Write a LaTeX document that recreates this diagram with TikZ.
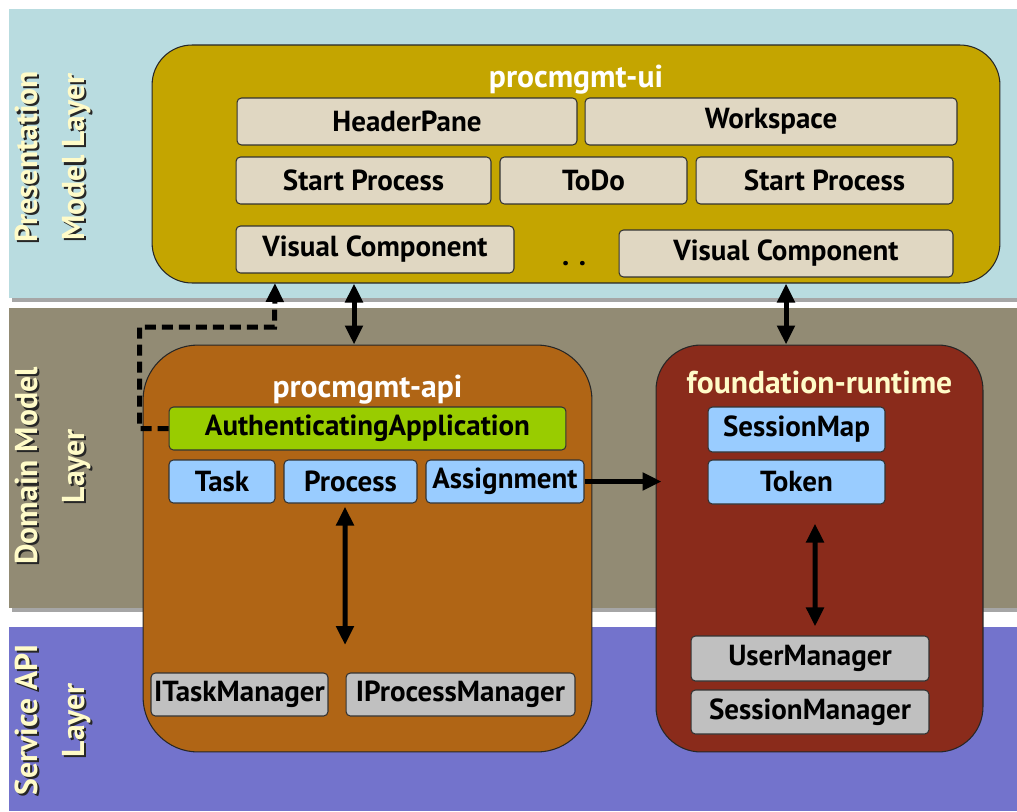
\documentclass[tikz,border=0pt]{standalone}
\usepackage{fontspec}
\setmainfont{PT Sans}
\usetikzlibrary{arrows.meta}
\definecolor{presblue}{HTML}{B9DCE0}
\definecolor{domaingray}{HTML}{928B74}
\definecolor{servicepurple}{HTML}{7373CC}
\definecolor{uigold}{HTML}{C4A500}
\definecolor{apiorange}{HTML}{B06515}
\definecolor{runtimered}{HTML}{8A2B1B}
\definecolor{beige}{HTML}{E0D7C2}
\definecolor{authgreen}{HTML}{99CC00}
\definecolor{classblue}{HTML}{99CCFF}
\definecolor{mgrgray}{HTML}{C0C0C0}
\definecolor{cream}{HTML}{FFFBC8}

% texte vertical des couches, avec son ombre
\newcommand{\layerlabel}[3]{%
  \node[layertext, text=black!85] (#1-shadow) at ([xshift=1.2pt,yshift=-1.2pt]#2) {#3};
  \node[layertext] (#1) at (#2) {#3};}

\begin{document}
\begin{tikzpicture}[x=0.02cm, y=-0.02cm,
  every node/.style={font=\fontsize{16.5}{19}\selectfont\bfseries},
  layertext/.style={rotate=90, align=center, text=cream, font=\fontsize{18}{26.7}\selectfont\bfseries},
  module/.style={draw=black!85, line width=0.6pt, inner sep=0pt},
  title/.style={font=\fontsize{18}{21}\selectfont\bfseries},
  comp/.style={draw=black!80, line width=0.6pt, rounded corners=2.5pt, inner sep=0pt, minimum height=0.94cm},
  link/.style={line width=0.1cm, -{Triangle[length=0.38cm,width=0.34cm]}},
  dbl/.style={line width=0.1cm, {Triangle[length=0.38cm,width=0.34cm]}-{Triangle[length=0.38cm,width=0.34cm]}},
  authlink/.style={link, dash pattern=on 0.22cm off 0.12cm}]
  \useasboundingbox (0,0) rectangle (1017,811);

  % Couches
  \fill[black!35] (12,12) rectangle (1017,302);
  \fill[presblue] (9,9) rectangle (1017,298);
  \fill[black!35] (12,311) rectangle (1017,612);
  \fill[domaingray] (9,308) rectangle (1017,608);
  \fill[servicepurple] (9,627) rectangle (1017,811);

  \layerlabel{preslbl}{53,157}{Presentation\\Model Layer}
  \layerlabel{domainlbl}{53,466}{Domain Model\\Layer}
  \layerlabel{servicelbl}{53,720}{Service API\\Layer}

  % Modules
  \node[module, fill=uigold, rounded corners=0.8cm, minimum width=16.96cm, minimum height=4.76cm] (ui) at (576,164) {};
  \node[module, fill=apiorange, rounded corners=1.1cm, minimum width=8.98cm, minimum height=8.14cm] (api) at (367.5,548.5) {};
  \node[module, fill=runtimered, rounded corners=0.9cm, minimum width=6.54cm, minimum height=8.14cm] (fr) at (819.5,548.5) {};

  \node[title, text=white] (uititle) at ([yshift=-0.7cm]ui.north) {procmgmt-ui};
  \node[title, text=white] (apititle) at ([yshift=-0.9cm]api.north) {procmgmt-api};
  \node[title, text=cream] (frtitle) at ([yshift=-0.76cm]fr.north) {foundation-runtime};

  % procmgmt-ui
  \node[comp, fill=beige, minimum width=6.8cm] (header) at (407,121.5) {HeaderPane};
  \node[comp, fill=beige, minimum width=7.44cm] (workspace) at (771,121.5) {Workspace};
  \node[comp, fill=beige, minimum width=5.1cm] (startA) at (363.5,180.5) {Start Process};
  \node[comp, fill=beige, minimum width=3.74cm] (todo) at (593.5,180.5) {ToDo};
  \node[comp, fill=beige, minimum width=5.14cm] (startB) at (824.5,180.5) {Start Process};
  \node[comp, fill=beige, minimum width=5.56cm] (vcA) at (375,249.5) {Visual Component};
  \node[comp, fill=beige, minimum width=6.68cm] (vcB) at (786,253.5) {Visual Component};
  \node[anchor=base] (dots) at (574,265) {.\,\,.};

  % procmgmt-api
  \node[comp, fill=authgreen, minimum width=7.94cm, minimum height=0.86cm] (auth) at (367.5,428.5) {AuthenticatingApplication};
  \node[comp, fill=classblue, minimum width=2.12cm, minimum height=0.86cm] (task) at (222,481.5) {Task};
  \node[comp, fill=classblue, minimum width=2.66cm, minimum height=0.86cm] (process) at (350.5,481.5) {Process};
  \node[comp, fill=classblue, minimum width=3.16cm, minimum height=0.86cm] (assign) at (505,481.5) {Assignment};
  \node[comp, fill=mgrgray, minimum width=3.54cm, minimum height=0.86cm] (itaskmgr) at (239.5,694.5) {ITaskManager};
  \node[comp, fill=mgrgray, minimum width=4.58cm, minimum height=0.86cm] (iprocmgr) at (460.5,694.5) {IProcessManager};

  % foundation-runtime
  \node[comp, fill=classblue, minimum width=3.54cm, minimum height=0.9cm] (sessionmap) at (796.5,429.5) {SessionMap};
  \node[comp, fill=classblue, minimum width=3.54cm, minimum height=0.88cm] (token) at (796.5,482) {Token};
  \node[comp, fill=mgrgray, minimum width=4.76cm, minimum height=0.9cm] (usermgr) at (810,658.5) {UserManager};
  \node[comp, fill=mgrgray, minimum width=4.76cm, minimum height=0.88cm] (sessionmgr) at (810,712) {SessionManager};

  % Liens
  \coordinate (uiapi) at ([xshift=-0.27cm]api.north);
  \draw[dbl] (uiapi |- ui.south) -- (uiapi);
  \draw[dbl] (vcB.south |- ui.south) -- (vcB.south |- fr.north);
  \draw[link] (assign.east) -- ([xshift=0.12cm]assign.east -| fr.west);
  \coordinate (procend) at (345,645);
  \draw[dbl] ([xshift=-0.11cm,yshift=-0.06cm]process.south) -- (procend);
  \draw[dbl] ([xshift=0.37cm,yshift=-0.38cm]token.south) -- ([xshift=0.1cm,yshift=0.18cm]usermgr.north);
  \coordinate (authtip) at (275,283);
  \draw[authlink] (auth.west) -- ++(-29,0) |- ++(135,-101.5) -- (authtip);
\end{tikzpicture}
\end{document}
